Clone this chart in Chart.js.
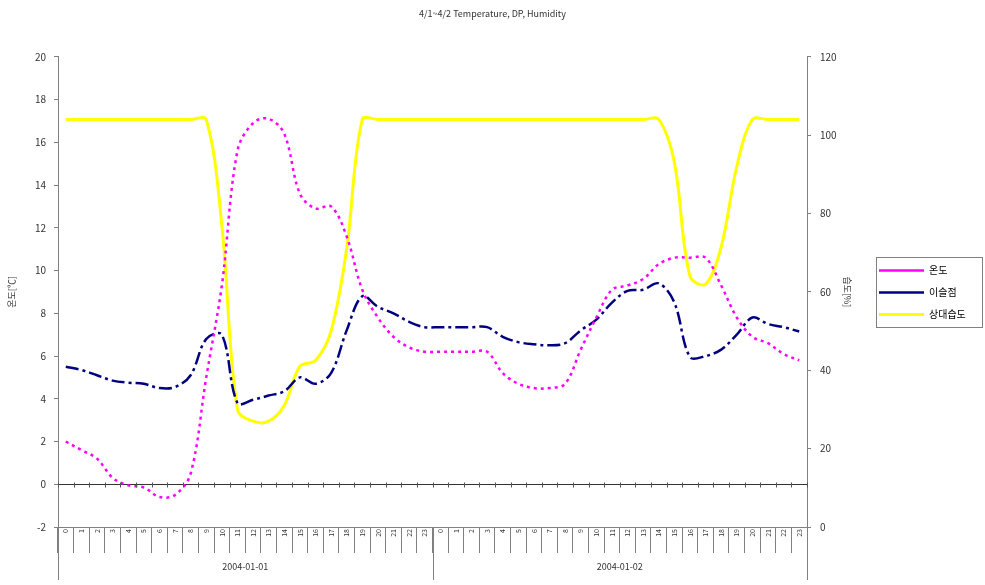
<!DOCTYPE html>
<html><head><meta charset="utf-8">
<script src="https://cdn.jsdelivr.net/npm/chart.js@4"></script>
<style>html,body{margin:0;padding:0;background:#fff}#wrap{width:985px;height:585px}</style>
</head><body><div id="wrap"><canvas id="c" width="985" height="585"></canvas></div>
<script>
const chartTitle = '4/1~4/2 Temperature, DP, Humidity';
const days = ['2004-01-01', '2004-01-02'];
const hourLabels = ['0','1','2','3','4','5','6','7','8','9','10','11','12','13','14','15','16','17','18','19','20','21','22','23',
                    '0','1','2','3','4','5','6','7','8','9','10','11','12','13','14','15','16','17','18','19','20','21','22','23'];
const seriesNames = ['온도', '이슬점', '상대습도'];
const temperature = [2.0, 1.6, 1.2, 0.3, -0.05, -0.15, -0.6, -0.5, 0.5, 5.0, 9.3, 15.6, 16.9, 17.1, 16.4, 13.6, 12.9, 13.0, 11.6, 9.1, 7.8, 6.9, 6.4, 6.2,
                     6.2, 6.2, 6.2, 6.2, 5.2, 4.7, 4.5, 4.5, 4.7, 6.3, 7.8, 9.1, 9.3, 9.6, 10.3, 10.6, 10.6, 10.6, 9.3, 7.8, 6.9, 6.6, 6.1, 5.8];
const dewPoint = [5.5, 5.35, 5.1, 4.85, 4.75, 4.7, 4.5, 4.55, 5.1, 6.8, 7.0, 3.8, 3.95, 4.15, 4.35, 5.0, 4.7, 5.2, 7.2, 8.8, 8.3, 8.0, 7.6, 7.35,
                  7.35, 7.35, 7.35, 7.35, 6.9, 6.65, 6.55, 6.5, 6.6, 7.2, 7.7, 8.5, 9.05, 9.1, 9.4, 8.5, 5.95, 6.0, 6.3, 7.0, 7.8, 7.5, 7.35, 7.15];
const humidity = [104, 104, 104, 104, 104, 104, 104, 104, 104, 104, 77, 30, 27, 27, 31, 41, 42.5, 50, 71, 104, 104, 104, 104, 104,
                  104, 104, 104, 104, 104, 104, 104, 104, 104, 104, 104, 104, 104, 104, 104, 93, 64, 62, 71.5, 92, 104, 104, 104, 104];
const leftTicks = {min: -2, max: 20, step: 2};
const rightTicks = {min: 0, max: 120, step: 20};

Chart.defaults.font.family = "'Noto Sans CJK KR', 'Liberation Sans', sans-serif";

const decor = {
  id: 'decor',
  beforeLayout(chart) {
    const lg = chart.legend;
    if (lg && !lg._patched) {
      const orig = lg.fit;
      lg.fit = function () { orig.call(this); this.width = 118; };
      lg._patched = true;
    }
  },
  afterDraw(chart) {
    const {ctx, chartArea, scales} = chart;
    const x = scales.x, y = scales.y;
    const half = (x.getPixelForValue(1) - x.getPixelForValue(0)) / 2;
    const n = hourLabels.length;
    ctx.save();
    // small ticks on zero line
    const y0 = Math.round(y.getPixelForValue(0)) + 0.5;
    ctx.strokeStyle = '#555';
    ctx.lineWidth = 1;
    ctx.beginPath();
    for (let i = 0; i <= n; i++) {
      const px = Math.round(x.getPixelForValue(0) - half + i * 2 * half) + 0.5;
      ctx.moveTo(px, y0 - 2); ctx.lineTo(px, y0 + 3);
    }
    ctx.stroke();
    // day separators and labels
    ctx.strokeStyle = '#808080';
    ctx.beginPath();
    const per = n / days.length;
    for (let d = 0; d <= days.length; d++) {
      const px = Math.round(x.getPixelForValue(0) - half + d * per * 2 * half) + 0.5;
      ctx.moveTo(px, chartArea.bottom); ctx.lineTo(px, chartArea.bottom + 53);
    }
    ctx.stroke();
    ctx.fillStyle = '#333';
    ctx.font = "9px 'Noto Sans CJK KR', 'Liberation Sans', sans-serif";
    ctx.textAlign = 'center';
    ctx.textBaseline = 'middle';
    days.forEach((d, k) => {
      const a = x.getPixelForValue(k * per) - half;
      const b = x.getPixelForValue((k + 1) * per - 1) + half;
      ctx.fillText(d, (a + b) / 2, chartArea.bottom + 40);
    });
    // legend border
    const lg = chart.legend;
    if (lg) {
      const cy = (lg.top + lg.bottom) / 2;
      ctx.strokeStyle = '#808080';
      ctx.lineWidth = 1;
      ctx.strokeRect(Math.round(lg.left + 9) + 0.5, Math.round(cy - 36) + 0.5, 106, 70);
    }
    ctx.restore();
  }
};

new Chart(document.getElementById('c'), {
  type: 'line',
  data: {
    labels: hourLabels,
    datasets: [
      {label: seriesNames[0], data: temperature, yAxisID: 'y', borderColor: '#ff00ff', backgroundColor: '#ff00ff',
       borderWidth: 2.5, borderDash: [3, 4], pointRadius: 0, tension: 0.35, fill: false},
      {label: seriesNames[1], data: dewPoint, yAxisID: 'y', borderColor: '#000080', backgroundColor: '#000080',
       borderWidth: 2.5, borderDash: [13, 4, 3, 4], pointRadius: 0, tension: 0.35, fill: false},
      {label: seriesNames[2], data: humidity, yAxisID: 'y1', borderColor: '#ffff00', backgroundColor: '#ffff00',
       borderWidth: 3, pointRadius: 0, tension: 0.35, fill: false}
    ]
  },
  options: {
    responsive: false,
    animation: false,
    events: [],
    layout: {padding: 0},
    plugins: {
      title: {display: true, text: chartTitle, color: '#333', font: {size: 9, weight: 'normal'},
              padding: {top: 8, bottom: 38}},
      legend: {
        position: 'right',
        labels: {usePointStyle: true, pointStyle: 'line', pointStyleWidth: 45, boxHeight: 10,
                 color: '#000', font: {size: 10}, padding: 12}
      },
      tooltip: {enabled: false}
    },
    scales: {
      x: {
        type: 'category', offset: true,
        grid: {offset: true, drawOnChartArea: false, drawTicks: true, tickLength: 26, color: '#808080'},
        border: {color: '#808080'},
        ticks: {autoSkip: false, minRotation: 90, maxRotation: 90, padding: -24, color: '#333', font: {size: 7}},
        afterFit(s) { s.height = 58; }
      },
      y: {
        position: 'left', min: leftTicks.min, max: leftTicks.max,
        ticks: {stepSize: leftTicks.step, color: '#333', font: {size: 10}, padding: 8},
        grid: {drawOnChartArea: true, drawTicks: true, tickLength: 4, tickColor: '#808080',
               color: c => (c.tick && c.tick.value === 0) ? '#333' : 'rgba(0,0,0,0)'},
        border: {color: '#808080'},
        title: {display: true, text: '온도[℃]', color: '#333', font: {size: 9}, padding: {top: 6, bottom: 0}},
        afterFit(s) { s.width = 58; }
      },
      y1: {
        position: 'right', min: rightTicks.min, max: rightTicks.max,
        ticks: {stepSize: rightTicks.step, color: '#333', font: {size: 10}, padding: 9},
        grid: {drawOnChartArea: false, drawTicks: true, tickLength: 4, color: '#808080'},
        border: {color: '#808080'},
        title: {display: true, text: '습도[%]', color: '#333', font: {size: 9}, padding: {top: 14, bottom: 0}},
        afterFit(s) { s.width = 60; }
      }
    }
  },
  plugins: [decor]
});
</script>
</body></html>
